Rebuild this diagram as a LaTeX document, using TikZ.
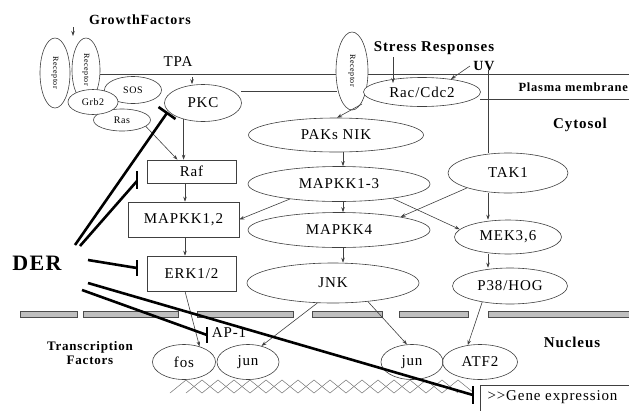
\documentclass[tikz,border=0pt]{standalone}
\usepackage{fontspec}
\setmainfont{Liberation Serif}[LetterSpace=6]
\usetikzlibrary{shapes.geometric,arrows.meta,calc}
\begin{document}
\begin{tikzpicture}[x=1pt,y=-1pt,
  ln/.style={draw=black!75, line width=0.6pt},
  ell/.style={ln, ellipse, fill=white, inner sep=0pt},
  boxn/.style={ln, rectangle, fill=white, inner sep=0pt},
  arr/.style={ln, -{Stealth[length=5pt,width=3.5pt]}},
  inh/.style={line width=2.6pt, black},
  lab/.style={font=\fontsize{15}{17}\selectfont},
  slab/.style={font=\fontsize{10}{12}\selectfont},
  tlab/.style={font=\fontsize{8}{9}\selectfont},
  blab/.style={font=\bfseries\fontsize{14}{16}\selectfont},
  memb/.style={draw=black!70, fill=gray!50, line width=0.6pt},
  dna/.style={draw=black!55, line width=0.5pt}
]
\useasboundingbox (0,0) rectangle (629,410);

% ---- texts
\node[blab] (gft) at (140,20) {GrowthFactors};
\node[lab] (tpa) at (178,62) {TPA};
\node[blab, font=\bfseries\fontsize{15}{17}\selectfont] (stress) at (434,48) {Stress Responses};
\node[blab] (uv) at (484,66) {UV};
\node[blab, anchor=west, font=\bfseries\fontsize{12.5}{14}\selectfont] (pm) at (515,87) {Plasma membrane};
\node[blab, font=\bfseries\fontsize{15}{17}\selectfont] (cyt) at (580,125) {Cytosol};
\node[blab, font=\bfseries\fontsize{15}{17}\selectfont] (nuc) at (572,342) {Nucleus};
\node[blab, font=\bfseries\fontsize{13}{15}\selectfont, align=center] (tf) at (90,353) {Transcription\\[-1pt]Factors};
\node[font=\bfseries\fontsize{22}{25}\selectfont] (der) at (37,263) {DER};

% ---- plasma membrane lines
\coordinate (m1a) at (100,74);
\coordinate (m1b) at (337,74);
\coordinate (m1c) at (368,74);
\coordinate (m1d) at (629,74);
\coordinate (m2a) at (241,91);
\coordinate (m2b) at (337,91);
\coordinate (m3a) at (480,99);
\coordinate (m3b) at (629,99);
\draw[ln] (m1a) -- (m1b);
\draw[ln] (m1c) -- (m1d);
\draw[ln] (m2a) -- (m2b);
\draw[ln] (m3a) -- (m3b);

% ---- receptors and adaptor complex
\node[ell, rotate=-90, minimum width=70pt, minimum height=30pt, tlab] (rec1) at (55,73) {Receptor};
\node[ell, rotate=-90, minimum width=64pt, minimum height=28pt, tlab] (rec2) at (86,70) {Receptor};
\node[ell, rotate=-90, minimum width=78pt, minimum height=32pt, tlab] (rec3) at (352,71) {Receptor};
\node[ell, minimum width=57pt, minimum height=27pt, slab] (sos) at (133,90) {SOS};
\node[ell, minimum width=57pt, minimum height=22pt, slab] (ras) at (122,120) {Ras};
\node[ell, minimum width=50pt, minimum height=25pt, slab] (grb) at (93,102) {Grb2};

% ---- nodes
\node[ell, minimum width=77pt, minimum height=37pt, lab] (pkc) at (203,103) {PKC};
\node[ell, minimum width=117pt, minimum height=29pt, lab] (rac) at (422,92) {Rac/Cdc2};
\node[boxn, minimum width=89pt, minimum height=23pt, lab] (raf) at (191.5,171.5) {Raf};
\node[boxn, minimum width=111pt, minimum height=35pt, lab] (mk12) at (183.5,219.5) {MAPKK1,2};
\node[boxn, minimum width=89pt, minimum height=35pt, lab] (erk) at (191.5,273.5) {ERK1/2};
\node[ell, minimum width=175pt, minimum height=34pt, lab] (paks) at (336,135) {PAKs NIK};
\node[ell, minimum width=182pt, minimum height=35pt, lab] (mk13) at (339,184) {MAPKK1-3};
\node[ell, minimum width=182pt, minimum height=35pt, lab] (mk4) at (339,230) {MAPKK4};
\node[ell, minimum width=172pt, minimum height=40pt, lab] (jnk) at (333,283) {JNK};
\node[ell, minimum width=120pt, minimum height=40pt, lab] (tak) at (508,173) {TAK1};
\node[ell, minimum width=107pt, minimum height=34pt, lab] (mek) at (508,237) {MEK3,6};
\node[ell, minimum width=115pt, minimum height=36pt, lab] (p38) at (510,286) {P38/HOG};

% ---- nuclear membrane
\draw[memb] (20,311) rectangle (77,317);
\draw[memb] (83,311) rectangle (178,317);
\draw[memb] (197,311) rectangle (293,317);
\draw[memb] (312,311) rectangle (382,317);
\draw[memb] (399,311) rectangle (468,317);
\draw[memb] (488,311) rectangle (640,317);

% ---- DNA
\draw[dna] (170,393) \foreach \i in {0,...,8} { -- ({186+32*\i},380) -- ({202+32*\i},393) };
\draw[dna] (186,393) \foreach \i in {0,...,8} { -- ({202+32*\i},380) -- ({218+32*\i},393) };

% ---- nuclear factors
\node[ell, fill=none, minimum width=63pt, minimum height=35pt, lab] (fos) at (184,362) {fos};
\node[ell, fill=none, minimum width=62pt, minimum height=35pt, lab] (jun1) at (248,362) {jun};
\node[ell, fill=none, minimum width=62pt, minimum height=35pt, lab] (jun2) at (412,362) {jun};
\node[ell, fill=none, minimum width=75pt, minimum height=35pt, lab] (atf) at (480,362) {ATF2};
\node[lab, inner sep=1pt] (ap1) at (229,333) {AP-1};
\node[boxn, anchor=north west, minimum width=160pt, minimum height=40pt] (gbox) at (480,385) {};
\node[lab, anchor=west] (gene) at (484,397) {>{}>Gene expression};

% ---- arrows
\coordinate (gf) at (73,27);
\draw[arr] (gf) -- ++(0,9);
\coordinate (tpaa) at (192,77);
\draw[arr] (tpaa) -- (tpaa |- pkc.north);
\coordinate (sx) at (393,57);
\draw[arr] (sx) -- ++(0,26);
\draw[arr] (uv.west) -- (rac.24);
\coordinate (vx) at (488,70);
\draw[ln] (vx) -- (vx |- tak.north);
\draw[arr] (tak.south -| vx) -- (mek.north -| vx);
\draw[arr] (mek.south -| vx) -- (p38.north -| vx);
\coordinate (r3b) at (362,104);
\draw[arr] (r3b) -- ([xshift=1pt]paks.north);

\draw[arr] (pkc.220) -- (pkc.220 |- raf.north);
\draw[arr] (ras.-15) -- ([xshift=-14pt]raf.north);
\draw[arr] ([xshift=-6.5pt]raf.south) -- ([xshift=-6.5pt]raf.south |- mk12.north);
\draw[arr] ([xshift=1.5pt]mk12.south) -- ([xshift=1.5pt]mk12.south |- erk.north);
\draw[arr] ([xshift=-6.5pt]erk.south) -- (fos.45);

\draw[arr] ([xshift=7pt]paks.south) -- ([xshift=7pt]paks.south |- mk13.north);
\draw[arr] ([xshift=4pt]mk13.south) -- ([xshift=4pt]mk13.south |- mk4.north);
\draw[arr] ([xshift=4pt]mk4.south) -- ([xshift=4pt]mk4.south |- jnk.north);
\draw[arr] (mk13.197) -- (mk12.east);
\draw[arr] (tak.200) -- (mk4.12);
\draw[arr] (mk13.-15) -- (mek.171);
\draw[arr] (jnk.232) -- (jun1.50);
\draw[arr] (jnk.-28) -- (jun2.106);
\draw[arr] (p38.210) -- (atf.126);

% ---- DER inhibitions
\coordinate (d1) at (75,245);
\coordinate (e1) at (167,113);
\coordinate (d2) at (80,246);
\coordinate (e2) at (137,181);
\coordinate (d3) at (88,260);
\coordinate (e3) at (137,268);
\coordinate (d4) at (82,290);
\coordinate (e4) at (207,335);
\coordinate (d5) at (88,283);
\coordinate (e5) at (473,395);
\draw[inh] (d1) -- (e1);
\draw[inh] ($(e1)+(-8.5,-6)$) -- ($(e1)+(8.5,6)$);
\draw[inh] (d2) -- (e2);
\draw[inh] (137,171) -- (137,189);
\draw[inh] (d3) -- (e3);
\draw[inh] (137,260) -- (137,276);
\draw[inh] (d4) -- (e4);
\draw[inh] (207,327) -- (207,343);
\draw[inh] (d5) -- (e5);
\draw[inh] (473,386) -- (473,404);
\end{tikzpicture}
\end{document}
